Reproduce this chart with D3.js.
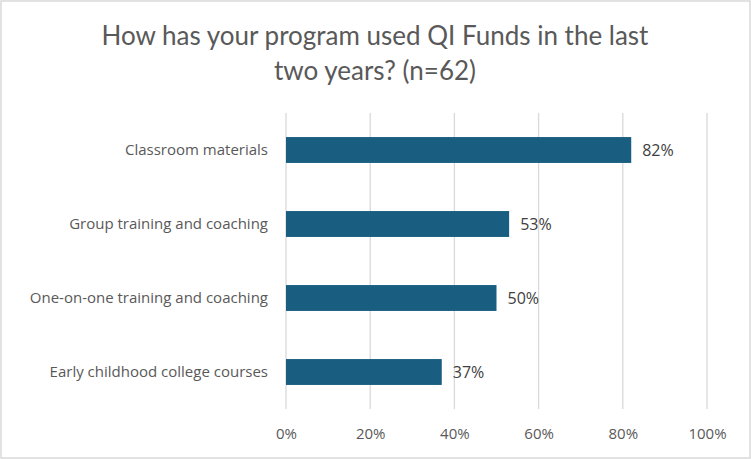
<!DOCTYPE html>
<html><head><meta charset="utf-8">
<script src="https://cdn.jsdelivr.net/npm/d3@7"></script>
<style>body{margin:0;background:#fff}svg{display:block}</style>
</head><body>
<svg id="c" width="751" height="459"></svg>
<script>
const titleLines = ["How has your program used QI Funds in the last", "two years? (n=62)"];
const categories = ["Classroom materials", "Group training and coaching", "One-on-one training and coaching", "Early childhood college courses"];
const values = [0.82, 0.53, 0.50, 0.37];
const ticks = [0, 0.2, 0.4, 0.6, 0.8, 1.0];

const svg = d3.select("#c");
const W = 751, H = 459;
const bodyFont = "'Open Sans','Liberation Sans',Arial,sans-serif";
svg.append("rect").attr("x",1).attr("y",1).attr("width",W-2).attr("height",H-2)
  .attr("fill","#fff").attr("stroke","#d9d9d9").attr("stroke-width",1.5);

const x = d3.scaleLinear().domain([0,1]).range([286,707]);
const y = d3.scaleBand().domain(categories).range([113,409]).paddingInner(0.65).paddingOuter(0.325);

svg.append("g").selectAll("text").data(titleLines).join("text")
  .attr("x",375).attr("y",(d,i)=>45+i*35).attr("text-anchor","middle")
  .attr("font-family","Lato,'Open Sans',sans-serif")
  .attr("font-size",26).attr("fill","#595959").text(d=>d);

svg.append("g").selectAll("line").data(ticks).join("line")
  .attr("x1",d=>x(d)).attr("x2",d=>x(d)).attr("y1",113).attr("y2",409)
  .attr("stroke","#d9d9d9").attr("stroke-width",1.3);

const xAxis = d3.axisBottom(x).tickValues(ticks).tickFormat(d3.format(".0%")).tickSize(0).tickPadding(0);
const gx = svg.append("g").attr("transform","translate(0,439)").call(xAxis);
gx.select(".domain").remove();
gx.selectAll("text").attr("font-family",bodyFont).attr("font-size",15).attr("fill","#595959").attr("dy",0);

const yAxis = d3.axisLeft(y).tickSize(0).tickPadding(18);
const gy = svg.append("g").attr("transform","translate(286,0)").call(yAxis);
gy.select(".domain").remove();
gy.selectAll("text").attr("font-family",bodyFont).attr("font-size",15).attr("fill","#595959");

svg.append("g").selectAll("rect").data(categories).join("rect")
  .attr("x",x(0)).attr("y",d=>y(d)).attr("width",(d,i)=>x(values[i])-x(0)).attr("height",y.bandwidth())
  .attr("fill","#195e80");

svg.append("g").selectAll("text").data(categories).join("text")
  .attr("x",(d,i)=>x(values[i])+11).attr("y",d=>y(d)+y.bandwidth()/2).attr("dy","0.35em")
  .attr("font-family",bodyFont).attr("font-size",16).attr("fill","#404040")
  .text((d,i)=>d3.format(".0%")(values[i]));
</script>
</body></html>
